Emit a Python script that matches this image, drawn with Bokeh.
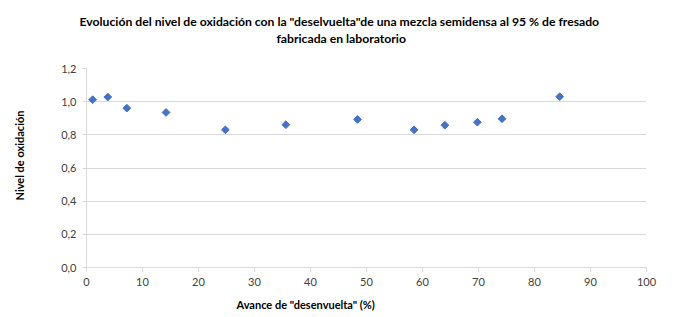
import math
from bokeh.plotting import figure
from bokeh.models import FixedTicker, Range1d, ColumnDataSource, Title
from bokeh.embed import file_html
from bokeh.resources import INLINE

title_lines = ['Evolución  del nivel de oxidación  con la "deselvuelta"de una mezcla semidensa al 95 % de fresado',
               'fabricada en laboratorio']
x_label = 'Avance de "desenvuelta" (%)'
y_label = 'Nivel de oxidación'

avance = [1.1, 3.8, 7.2, 14.2, 24.8, 35.6, 48.4, 58.5, 64.0, 69.8, 74.2, 84.5]
nivel = [1.012, 1.028, 0.961, 0.935, 0.830, 0.861, 0.893, 0.830, 0.858, 0.876, 0.897, 1.030]

x_ticks = [0, 10, 20, 30, 40, 50, 60, 70, 80, 90, 100]
y_ticks = [0.0, 0.2, 0.4, 0.6, 0.8, 1.0, 1.2]
y_tick_labels = ["0,0", "0,2", "0,4", "0,6", "0,8", "1,0", "1,2"]

FONT = "Lato"
GRID = "#d9d9d9"
TXT = "#404040"

p = figure(width=678, height=317, output_backend="svg", toolbar_location=None,
           x_range=Range1d(0, 100), y_range=Range1d(0, 1.2),
           min_border_left=86, min_border_right=32, min_border_top=68, min_border_bottom=50)
p.outline_line_color = None
p.background_fill_color = "white"

src = ColumnDataSource(dict(x=avance, y=nivel))
p.scatter("x", "y", source=src, marker="square", size=5.5, angle=math.pi / 4,
          fill_color="#4472C4", line_color="#4472C4", line_width=1)

p.xaxis.ticker = FixedTicker(ticks=x_ticks)
p.yaxis.ticker = FixedTicker(ticks=y_ticks)
p.yaxis.major_label_overrides = {t: l for t, l in zip(y_ticks, y_tick_labels)}
p.xaxis.major_label_overrides = {t: str(t) for t in x_ticks}

for ax in (p.xaxis, p.yaxis):
    ax.axis_line_color = GRID
    ax.major_tick_line_color = GRID
    ax.major_tick_in = 0
    ax.major_tick_out = 4
    ax.minor_tick_line_color = None
    ax.major_label_text_font = FONT
    ax.major_label_text_font_size = "11px"
    ax.major_label_text_color = TXT
p.xaxis.major_label_standoff = 6
p.yaxis.major_label_standoff = 6

p.xgrid.grid_line_color = None
p.ygrid.grid_line_color = GRID
p.ygrid.grid_line_width = 1

def spacer(gap):
    # white dot on white background: only reserves room
    return Title(text=".", text_font_size="1px", standoff=gap, text_color="#ffffff")

# titles: each panel added "above" stacks outward from the frame
p.add_layout(spacer(20), "above")
p.add_layout(Title(text=title_lines[1], align="left", offset=190, standoff=0,
                   text_font=FONT, text_font_size="12.2px", text_font_style="bold",
                   text_color="#000000"), "above")
p.add_layout(Title(text=title_lines[0], align="left", offset=-7, standoff=0,
                   text_font=FONT, text_font_size="12.2px", text_font_style="bold",
                   text_color="#000000"), "above")
p.add_layout(Title(text=x_label, align="left", offset=150, standoff=14,
                   text_font=FONT, text_font_size="11px", text_font_style="bold",
                   text_color="#000000"), "below")
p.add_layout(spacer(30), "left")
p.add_layout(Title(text=y_label, align="left", offset=67, standoff=0,
                   text_font=FONT, text_font_size="11px", text_font_style="bold",
                   text_color="#000000"), "left")

open("out.html", "w").write(file_html(p, INLINE))
